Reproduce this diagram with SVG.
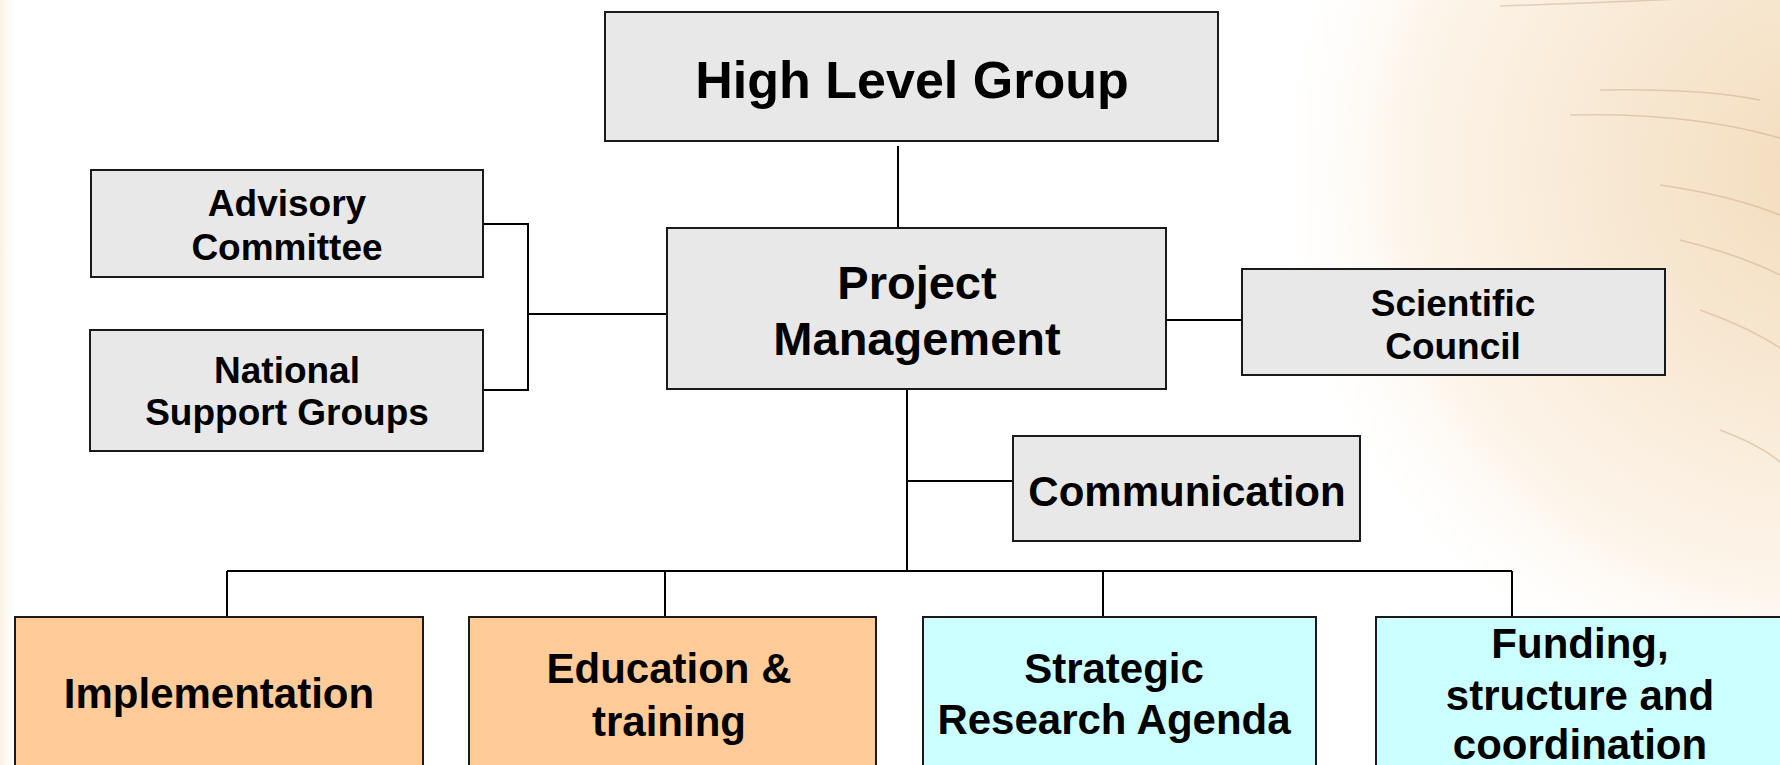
<svg xmlns="http://www.w3.org/2000/svg" width="1780" height="765" viewBox="0 0 1780 765">
  <defs>
    <radialGradient id="bgGlow" cx="1820" cy="170" r="560" gradientUnits="userSpaceOnUse">
      <stop offset="0" stop-color="#F3DCBD"/>
      <stop offset="0.4" stop-color="#F8E9D4"/>
      <stop offset="0.75" stop-color="#FDF5EB"/>
      <stop offset="1" stop-color="#FFFFFF" stop-opacity="0"/>
    </radialGradient>
    <linearGradient id="leftEdge" x1="0" y1="0" x2="1" y2="0">
      <stop offset="0" stop-color="#FBF1E4"/>
      <stop offset="1" stop-color="#FFFFFF" stop-opacity="0"/>
    </linearGradient>
    <style>
      .box { stroke: #1a1a1a; stroke-width: 2; }
      .gray { fill: #E8E8E8; }
      .orange { fill: #FFCC99; }
      .cyan { fill: #CCFFFF; }
      .conn { stroke: #000; stroke-width: 2; fill: none; }
      text { font-family: "Liberation Sans", Arial, sans-serif; font-weight: bold; fill: #000; text-anchor: middle; }
      .t52 { font-size: 52px; }
      .t47 { font-size: 47px; }
      .t42 { font-size: 42px; }
      .t37 { font-size: 37px; }
      .streak { fill: none; stroke: #B98E70; stroke-opacity: 0.35; stroke-width: 1.5; }
    </style>
  </defs>

  <!-- background -->
  <rect x="0" y="0" width="1780" height="765" fill="#FFFFFF"/>
  <rect x="1150" y="0" width="630" height="765" fill="url(#bgGlow)"/>
  <rect x="0" y="0" width="18" height="765" fill="url(#leftEdge)"/>
  <g id="background-streaks">
    <path class="streak" d="M1500 6 Q1620 2 1700 -2"/>
    <path class="streak" d="M1600 90 Q1700 88 1760 100"/>
    <path class="streak" d="M1570 115 Q1690 112 1780 138"/>
    <path class="streak" d="M1660 185 Q1730 195 1780 215"/>
    <path class="streak" d="M1680 240 Q1740 255 1780 275"/>
    <path class="streak" d="M1700 310 Q1750 328 1780 348"/>
    <path class="streak" d="M1720 430 Q1760 445 1780 462"/>
  </g>

  <!-- connectors -->
  <g id="connectors">
    <line class="conn" x1="898" y1="146" x2="898" y2="228"/>
    <polyline class="conn" points="479,224 528,224 528,390 479,390"/>
    <line class="conn" x1="528" y1="314" x2="667" y2="314"/>
    <line class="conn" x1="1166" y1="320" x2="1242" y2="320"/>
    <line class="conn" x1="907" y1="389" x2="907" y2="571"/>
    <line class="conn" x1="907" y1="481" x2="1013" y2="481"/>
    <line class="conn" x1="227" y1="571" x2="1512" y2="571"/>
    <line class="conn" x1="227" y1="571" x2="227" y2="617"/>
    <line class="conn" x1="665" y1="571" x2="665" y2="617"/>
    <line class="conn" x1="1103" y1="571" x2="1103" y2="617"/>
    <line class="conn" x1="1512" y1="571" x2="1512" y2="617"/>
  </g>

  <g id="high-level-group">
    <rect class="box gray" x="605" y="12" width="613" height="129"/>
    <text class="t52" x="912" y="98">High Level Group</text>
  </g>

  <g id="advisory-committee">
    <rect class="box gray" x="91" y="170" width="392" height="107"/>
    <text class="t37" x="287" y="216">Advisory</text>
    <text class="t37" x="287" y="260">Committee</text>
  </g>

  <g id="national-support-groups">
    <rect class="box gray" x="90" y="330" width="393" height="121"/>
    <text class="t37" x="287" y="383">National</text>
    <text class="t37" x="287" y="425">Support Groups</text>
  </g>

  <g id="project-management">
    <rect class="box gray" x="667" y="228" width="499" height="161"/>
    <text class="t47" x="917" y="299">Project</text>
    <text class="t47" x="917" y="355">Management</text>
  </g>

  <g id="scientific-council">
    <rect class="box gray" x="1242" y="269" width="423" height="106"/>
    <text class="t37" x="1453" y="316">Scientific</text>
    <text class="t37" x="1453" y="359">Council</text>
  </g>

  <g id="communication">
    <rect class="box gray" x="1013" y="436" width="347" height="105"/>
    <text class="t42" x="1187" y="506">Communication</text>
  </g>

  <g id="implementation">
    <rect class="box orange" x="15" y="617" width="408" height="160"/>
    <text class="t42" x="219" y="708">Implementation</text>
  </g>

  <g id="education-training">
    <rect class="box orange" x="469" y="617" width="407" height="160"/>
    <text class="t42" x="669" y="683">Education &amp;</text>
    <text class="t42" x="669" y="736">training</text>
  </g>

  <g id="strategic-research-agenda">
    <rect class="box cyan" x="923" y="617" width="393" height="160"/>
    <text class="t42" x="1114" y="683">Strategic</text>
    <text class="t42" x="1114" y="734">Research Agenda</text>
  </g>

  <g id="funding-structure-coordination">
    <rect class="box cyan" x="1376" y="617" width="410" height="160"/>
    <text class="t42" x="1580" y="658">Funding,</text>
    <text class="t42" x="1580" y="710">structure and</text>
    <text class="t42" x="1580" y="759">coordination</text>
  </g>
</svg>
